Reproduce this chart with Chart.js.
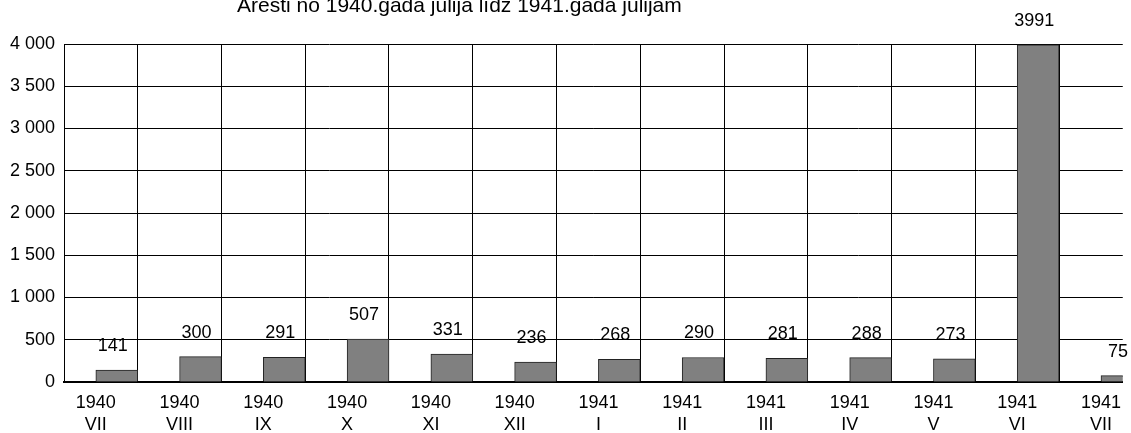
<!DOCTYPE html>
<html>
<head>
<meta charset="utf-8">
<script src="https://cdn.jsdelivr.net/npm/chart.js@4/dist/chart.umd.min.js"></script>
<style>
  body { margin: 0; background: #fff; overflow: hidden; }
  canvas { display: block; }
</style>
</head>
<body>
<canvas id="chart" width="1131" height="433"></canvas>
<script>
const title = "Aresti no 1940.gada jūlija līdz 1941.gada jūlijam";
const years = ["1940", "1940", "1940", "1940", "1940", "1940", "1941", "1941", "1941", "1941", "1941", "1941", "1941"];
const months = ["VII", "VIII", "IX", "X", "XI", "XII", "I", "II", "III", "IV", "V", "VI", "VII"];
const arrests = [141, 300, 291, 507, 331, 236, 268, 290, 281, 288, 273, 3991, 75];

const font = "'Liberation Sans', Arial, sans-serif";
let labels = years.map((y, i) => [y, months[i]]);

// draws the title (clipped at the top like the original) and the value labels
const textPlugin = {
  id: "texts",
  afterDatasetsDraw(chart) {
    let ctx = chart.ctx;
    ctx.save();
    ctx.fillStyle = "#000";
    ctx.font = "21px " + font;
    ctx.textAlign = "left";
    ctx.textBaseline = "alphabetic";
    ctx.fillText(title, 237, 12);

    ctx.font = "18px " + font;
    ctx.textAlign = "center";
    ctx.textBaseline = "middle";
    let meta = chart.getDatasetMeta(1);
    meta.data.forEach((bar, i) => {
      ctx.fillText(String(arrests[i]), bar.x - 4, bar.y - 24);
    });
    ctx.restore();
  }
};

new Chart(document.getElementById("chart").getContext("2d"), {
  type: "bar",
  data: {
    labels: labels,
    datasets: [
      {
        label: "",
        data: arrests.map(() => null),
      },
      {
        label: "Aresti",
        data: arrests,
        backgroundColor: "#808080",
        borderColor: "#222",
        borderWidth: 1,
        borderSkipped: "bottom",
      },
    ],
  },
  options: {
    responsive: false,
    animation: false,
    layout: { padding: { top: 44, left: 0, right: 0, bottom: 0 } },
    plugins: {
      legend: { display: false },
      tooltip: { enabled: false },
      title: { display: false },
    },
    datasets: { bar: { categoryPercentage: 1, barPercentage: 1 } },
    scales: {
      x: {
        offset: true,
        afterBuildTicks(s) {
          s._startValue = -0.38;
          s._valueRange = 12.64;
        },
        afterFit(s) { s.height = 51; },
        grid: { offset: true, color: "#000", lineWidth: 1, drawTicks: false },
        border: { display: true, color: "#000", width: 2 },
        ticks: {
          color: "#000",
          padding: 10,
          maxRotation: 0,
          autoSkip: false,
          font: { family: font, size: 18, lineHeight: 1.22 },
        },
      },
      y: {
        min: 0,
        max: 4000,
        afterFit(s) { s.width = 64; },
        grid: { color: "#000", lineWidth: 1, drawTicks: false },
        border: { display: true, color: "#000", width: 1 },
        ticks: {
          stepSize: 500,
          color: "#000",
          padding: 9,
          font: { family: font, size: 18 },
          callback: (v) => String(v).replace(/\B(?=(\d{3})+(?!\d))/g, " "),
        },
      },
    },
  },
  plugins: [textPlugin],
});
</script>
</body>
</html>
